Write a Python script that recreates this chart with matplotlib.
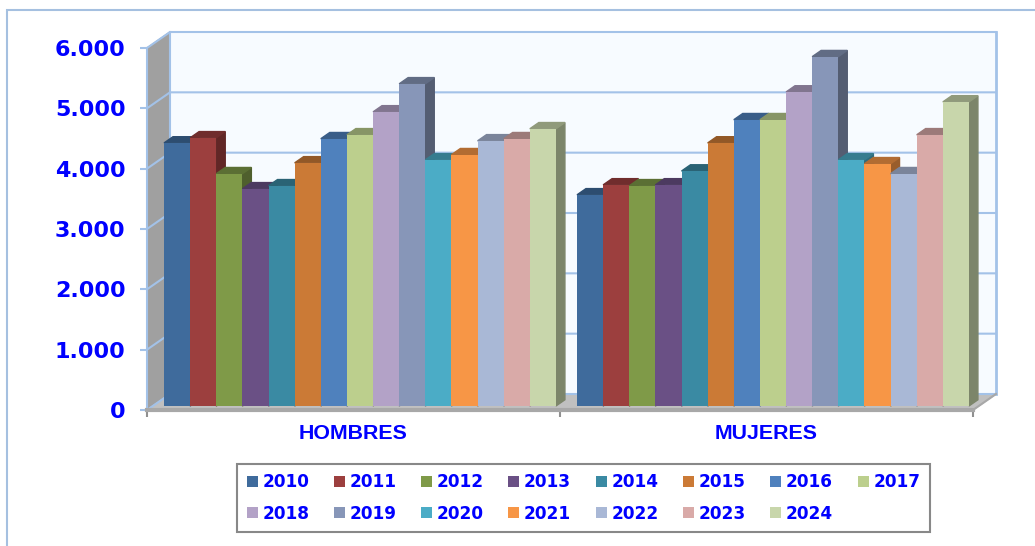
import matplotlib
matplotlib.use("Agg")
import matplotlib.pyplot as plt
from matplotlib.patches import Rectangle

categories = ["HOMBRES", "MUJERES"]
years = ["2010", "2011", "2012", "2013", "2014", "2015", "2016", "2017",
         "2018", "2019", "2020", "2021", "2022", "2023", "2024"]
hombres = [4360, 4445, 3850, 3600, 3650, 4030, 4430, 4495,
           4875, 5340, 4080, 4165, 4395, 4430, 4595]
mujeres = [3500, 3665, 3650, 3665, 3895, 4360, 4745, 4745,
           5205, 5790, 4080, 4015, 3850, 4495, 5040]
colors = ["#3f6b9c", "#9c3f3e", "#7f9a48", "#6a5085", "#3a8aa3", "#cb7a36", "#4f81bd", "#bccf8d",
          "#b3a2c7", "#8796b8", "#4bacc6", "#f79646", "#a9b8d6", "#d9aaa8", "#c8d6ab"]
yticks = [0, 1000, 2000, 3000, 4000, 5000, 6000]
ytick_labels = ["0", "1.000", "2.000", "3.000", "4.000", "5.000", "6.000"]

BLUE = "#0000ff"
LINE = "#a3c2e8"

W, H = 1035, 546
fig = plt.figure(figsize=(W / 100, H / 100), dpi=100)
ax = fig.add_axes([147 / W, 1 - 410 / H, 826 / W, 362 / H])
ax.set_xlim(0, 2)
ax.set_ylim(0, 6000)
ax.patch.set_visible(False)

# fake 3d: depth goes right and up, in data units
DX = 23 * 2 / 826
DY = 16 * 6000 / 362
bar_w = 26.13 * 2 / 826
gap = 17 * 2 / 826
d0, d1 = 0.25, 0.64


def shade(c, f):
    rgb = matplotlib.colors.to_rgb(c)
    return tuple(v * f for v in rgb)


# chart border, runs off the canvas on the right and bottom
fig.add_artist(Rectangle((7 / W, -0.1), 1.2, 1.1 - 10 / H, transform=fig.transFigure,
                         fill=False, ec="#a5c0e0", lw=1.5))

# walls and floor
ax.fill([DX, 2 + DX, 2 + DX, DX], [DY, DY, 6000 + DY, 6000 + DY], color="#f7fbff", zorder=1, clip_on=False)
ax.fill([0, DX, DX, 0], [0, DY, 6000 + DY, 6000], color="#a0a0a0", zorder=1, clip_on=False)
ax.fill([0, 2, 2 + DX, DX], [0, 0, DY, DY], color="#c0c0c0", zorder=1, clip_on=False)
for t in yticks:
    ax.plot([0, DX, 2 + DX], [t, t + DY, t + DY], color=LINE, lw=1.5, zorder=2, clip_on=False)
ax.plot([DX, DX], [DY, 6000 + DY], color=LINE, lw=1.5, zorder=2, clip_on=False)
ax.plot([2 + DX, 2 + DX], [DY, 6000 + DY], color=LINE, lw=2, zorder=2, clip_on=False)
ax.plot([2, 2 + DX], [0, DY], color="#a8a8a8", lw=1.5, zorder=2, clip_on=False)

z = 3
for g, values in enumerate([hombres, mujeres]):
    for i, v in enumerate(values):
        x0 = g + gap + i * bar_w
        x1 = x0 + bar_w
        base = d0 * DY
        top = v + base
        sx = (d1 - d0) * DX
        sy = (d1 - d0) * DY
        ax.fill([x1, x1 + sx, x1 + sx, x1], [base, base + sy, top + sy, top],
                color=shade(colors[i], 0.62), zorder=z, clip_on=False)
        ax.fill([x0, x1, x1 + sx, x0 + sx], [top, top, top + sy, top + sy],
                color=shade(colors[i], 0.72), zorder=z, clip_on=False)
        ax.bar(x0, v, bar_w, bottom=base, align="edge", color=colors[i],
               zorder=z + 0.5, clip_on=False, label=years[i] if g == 0 else None)
        z += 1

for s in ["top", "right"]:
    ax.spines[s].set_visible(False)
ax.spines["left"].set_color(LINE)
ax.spines["left"].set_linewidth(1.5)
ax.spines["bottom"].set_color("#a8a8a8")
ax.spines["bottom"].set_linewidth(3)

ax.set_yticks(yticks)
ax.set_yticklabels(ytick_labels, fontsize=16, fontweight="bold", color=BLUE)
ax.tick_params(axis="y", length=5, width=1.5, color=LINE, pad=10.5)
ax.set_xticks([0, 1, 2])
ax.set_xticklabels([])
ax.tick_params(axis="x", which="major", length=5, width=1.5, color="#909090")
ax.set_xticks([0.5, 1.5], minor=True)
ax.set_xticklabels(categories, minor=True, fontsize=15.4, fontweight="bold", color=BLUE,
                   family="Liberation Sans")
ax.tick_params(axis="x", which="minor", length=0, pad=10)

# matplotlib fills legend columns first, reorder so it reads by row
handles, labels = ax.get_legend_handles_labels()
order = []
for i in range(7):
    order += [i, i + 8]
order.append(7)
leg = fig.legend([handles[i] for i in order], [labels[i] for i in order], ncol=8,
                 loc="center", bbox_to_anchor=(583.5 / W, 1 - 498 / H),
                 prop={"size": 12.2, "weight": "bold"}, labelcolor=BLUE, fancybox=False,
                 edgecolor="#888888", framealpha=1, handlelength=0.65, handleheight=0.65,
                 handletextpad=0.27, columnspacing=1.45, labelspacing=0.8,
                 borderpad=0.55, borderaxespad=0)
leg.get_frame().set_linewidth(1.5)

fig.savefig("out.png", dpi=100)
